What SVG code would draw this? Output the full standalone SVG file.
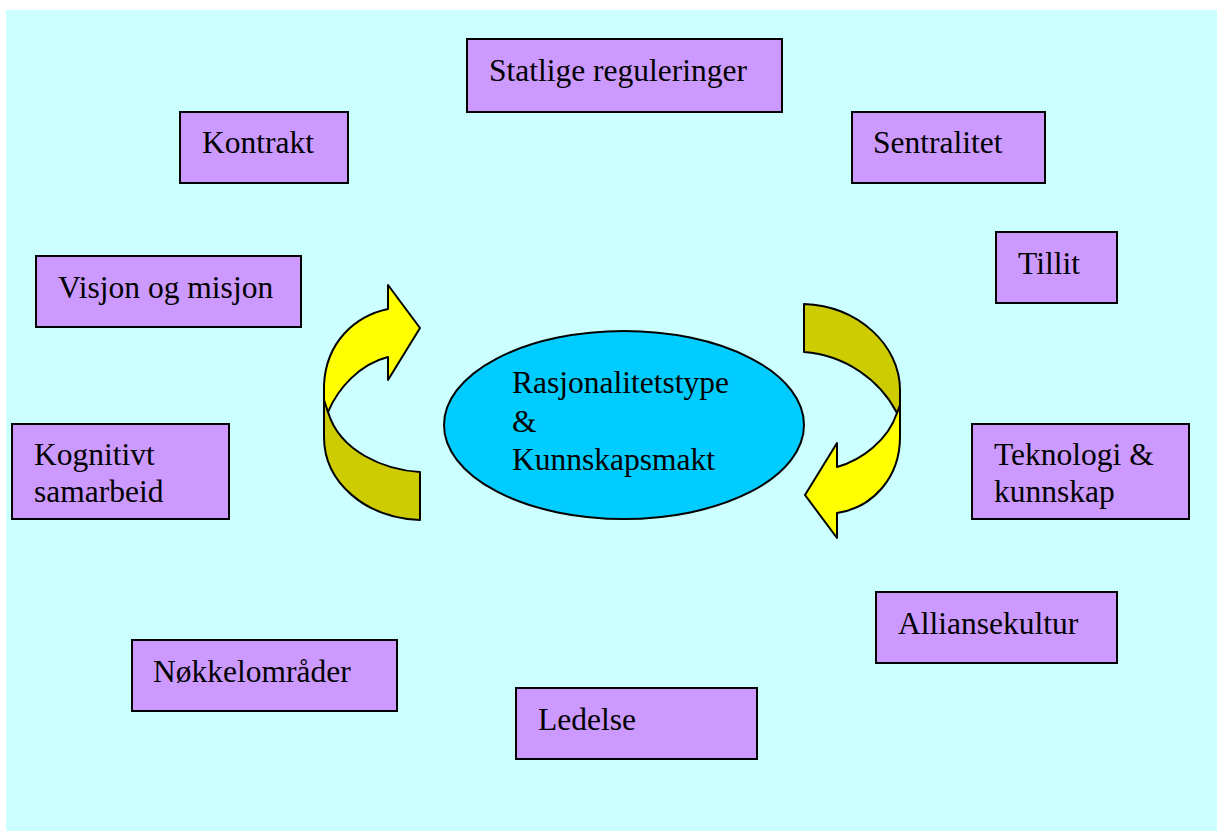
<svg xmlns="http://www.w3.org/2000/svg" width="1217" height="831" viewBox="0 0 1217 831">
<style>
.box{fill:#CC99FF;stroke:#000;stroke-width:2}
.t{font-family:"Liberation Serif","Times New Roman",serif;font-size:31.5px;fill:#000}
.y{fill:#FFFF00;stroke:#000;stroke-width:2;stroke-linejoin:round}
.d{fill:#CCCC00;stroke:#000;stroke-width:2;stroke-linejoin:round}
</style>
<rect x="6" y="10" width="1211" height="821" fill="#CCFFFF"/>
<g id="connectors">
<path class="d" d="M324,390 L324,437 C324,482 365,518 420,520 L420,472 C385,470 340,452 328,412 Z"/>
<path class="y" d="M388,309 C355,316 326,342 324,385 L324,400 L328,412 C338,388 360,364 388,357 L388,380 L420,328 L388,285 Z"/>
<path class="y" d="M897,413 L900,400 L900,437 C900,478 872,508 837,513 L837,538 L805,495 L837,443 L837,467 C862,460 888,440 897,413 Z"/>
<path class="d" d="M804,304 C858,306 900,345 900,390 L900,405 L897,413 C880,380 845,355 804,352 Z"/>
</g>
<g id="center">
<ellipse cx="624" cy="425" rx="180" ry="94" fill="#00CCFF" stroke="#000" stroke-width="2"/>
<text class="t" x="512" y="393">Rasjonalitetstype</text>
<text class="t" x="512" y="432">&amp;</text>
<text class="t" x="512" y="470">Kunnskapsmakt</text>
</g>
<g id="statlige"><rect class="box" x="467" y="39" width="315" height="73"/><text class="t" x="489" y="81">Statlige reguleringer</text></g>
<g id="kontrakt"><rect class="box" x="180" y="112" width="168" height="71"/><text class="t" x="202" y="153">Kontrakt</text></g>
<g id="sentralitet"><rect class="box" x="852" y="112" width="193" height="71"/><text class="t" x="873" y="153">Sentralitet</text></g>
<g id="tillit"><rect class="box" x="996" y="232" width="121" height="71"/><text class="t" x="1018" y="274">Tillit</text></g>
<g id="visjon"><rect class="box" x="36" y="256" width="265" height="71"/><text class="t" x="58" y="298">Visjon og misjon</text></g>
<g id="kognitivt"><rect class="box" x="12" y="424" width="217" height="95"/><text class="t" x="34" y="465">Kognitivt</text><text class="t" x="34" y="502">samarbeid</text></g>
<g id="teknologi"><rect class="box" x="972" y="424" width="217" height="95"/><text class="t" x="994" y="465">Teknologi &amp;</text><text class="t" x="994" y="502">kunnskap</text></g>
<g id="alliansekultur"><rect class="box" x="876" y="592" width="241" height="71"/><text class="t" x="898" y="634">Alliansekultur</text></g>
<g id="nokkelomrader"><rect class="box" x="132" y="640" width="265" height="71"/><text class="t" x="153" y="682">Nøkkelområder</text></g>
<g id="ledelse"><rect class="box" x="516" y="688" width="241" height="71"/><text class="t" x="538" y="730">Ledelse</text></g>
</svg>
